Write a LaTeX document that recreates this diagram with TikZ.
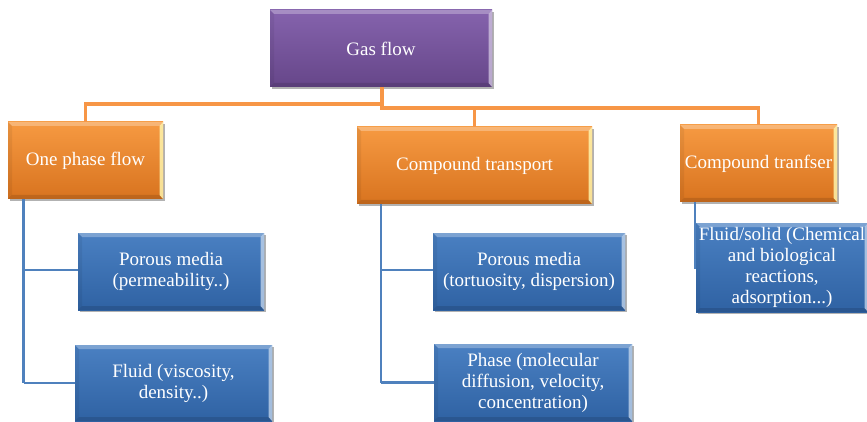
\documentclass[tikz,border=0pt]{standalone}
\usepackage{fontspec}
\setmainfont{Liberation Serif}
\usetikzlibrary{shadows}
\definecolor{purpT}{HTML}{8563AD}
\definecolor{purpB}{HTML}{664689}
\definecolor{orT}{HTML}{F69A42}
\definecolor{orB}{HTML}{D8731F}
\definecolor{blT}{HTML}{4A80C2}
\definecolor{blB}{HTML}{2F62A3}
\definecolor{orline}{HTML}{F79646}
\definecolor{blline}{HTML}{4F81BD}
\tikzset{
  box/.style={rectangle, inner sep=1pt, align=center, text=white,
    font=\fontsize{19}{21}\selectfont,
    drop shadow={shadow xshift=1.5pt, shadow yshift=-2pt, opacity=0.3, fill=black}},
  bevel/.style={path picture={
    \fill[white,opacity=0.28] (path picture bounding box.north west) -- (path picture bounding box.north east)
      -- ([xshift=-3.5pt,yshift=-4pt]path picture bounding box.north east) -- ([xshift=4pt,yshift=-4pt]path picture bounding box.north west) -- cycle;
    \fill[#1,opacity=0.8] (path picture bounding box.north east) -- (path picture bounding box.south east)
      -- ([xshift=-3.5pt,yshift=4pt]path picture bounding box.south east) -- ([xshift=-3.5pt,yshift=-4pt]path picture bounding box.north east) -- cycle;
    \fill[black,opacity=0.12] (path picture bounding box.south west) -- (path picture bounding box.south east)
      -- ([xshift=-3.5pt,yshift=4pt]path picture bounding box.south east) -- ([xshift=4pt,yshift=4pt]path picture bounding box.south west) -- cycle;
    \fill[black,opacity=0.06] (path picture bounding box.north west) -- (path picture bounding box.south west)
      -- ([xshift=4pt,yshift=4pt]path picture bounding box.south west) -- ([xshift=4pt,yshift=-4pt]path picture bounding box.north west) -- cycle;
  }},
  pbox/.style={box, top color=purpT, bottom color=purpB, bevel={purpT!40!white}},
  obox/.style={box, top color=orT, bottom color=orB, bevel={yellow!30!white}},
  bbox/.style={box, top color=blT, bottom color=blB, bevel={blT!35!white}},
  oline/.style={draw=orline, line width=3.5pt},
  bline/.style={draw=blline, line width=2.8pt},
}
\begin{document}
\begin{tikzpicture}[x=1pt,y=-1pt]
\useasboundingbox (0,0) rectangle (867,422);
\clip (0,0) rectangle (867,422);
\fill[white] (0,0) rectangle (867,422);
\coordinate (gl) at (382,104);
\coordinate (gr) at (382,108);
\coordinate (ol) at (85.5,104);
\coordinate (tr) at (758.5,108);
\coordinate (tm) at (474.5,108);
\coordinate (b1) at (23.5,270);
\coordinate (b2) at (23.5,383);
\coordinate (c1) at (381,270);
\coordinate (c2) at (381,382.5);
\coordinate (d1) at (695,267.5);

\node[pbox, minimum width=222pt, minimum height=77pt] (gas) at (381,48.5) {Gas flow};
\node[obox, minimum width=155pt, minimum height=77pt] (one) at (85.5,160.5) {One phase flow};
\node[obox, minimum width=235pt, minimum height=77pt] (ctr) at (474.5,165.5) {Compound transport};
\node[obox, minimum width=157pt, minimum height=77pt] (cfs) at (758.5,163.5) {Compound tranfser};

\draw[oline] (gas.south -| gl) -- (gl) -- (ol) -- (one.north);
\draw[oline] (gas.south -| gr) -- (gr) -- (tr) -- (cfs.north);
\draw[oline] (tm) -- (ctr.north);

\draw[bline] (one.south -| b1) -- (b2);
\draw[bline] (b1) -- (171,270);
\draw[bline] (b2) -- (173,383);
\draw[bline] (ctr.south -| c1) -- (c2);
\draw[bline] (c1) -- (529,270);
\draw[bline] (c2) -- (533,382.5);
\draw[bline] (cfs.south -| d1) -- (d1) -- (720,267.5);

\node[bbox, minimum width=186pt, minimum height=77pt] (pm1) at (171,271.5) {Porous media\\(permeability..)};
\node[bbox, minimum width=197pt, minimum height=76pt] (fl) at (173.5,383) {Fluid (viscosity,\\density..)};
\node[bbox, minimum width=192pt, minimum height=77pt] (pm2) at (529,271.5) {Porous media\\(tortuosity, dispersion)};
\node[bbox, minimum width=198pt, minimum height=77pt] (ph) at (533,382.5) {Phase (molecular\\diffusion, velocity,\\concentration)};
\node[bbox, minimum width=172pt, minimum height=89pt] (fs) at (782,267.5) {Fluid/solid (Chemical\\and biological\\reactions,\\adsorption...)};
\end{tikzpicture}
\end{document}
